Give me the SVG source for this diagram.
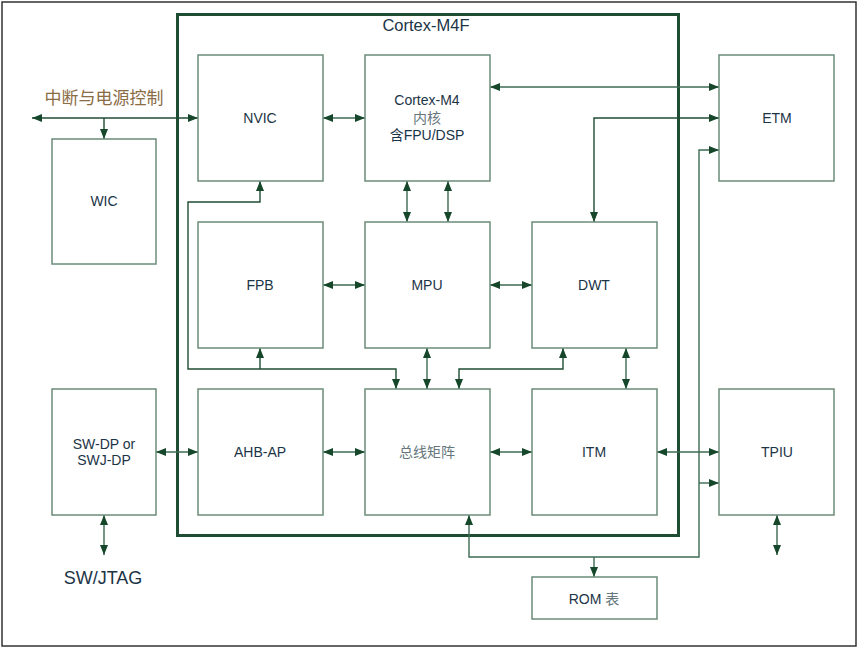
<svg xmlns="http://www.w3.org/2000/svg" width="859" height="649" viewBox="0 0 859 649">
<defs>
<marker id="ah" viewBox="0 0 10 8" refX="10" refY="4" markerWidth="10" markerHeight="8" markerUnits="userSpaceOnUse" orient="auto-start-reverse">
<path d="M0,0 L10,4 L0,8 Z" fill="#16472b"/>
</marker>
<style>
.box{fill:#fff;stroke:#6b8c79;stroke-width:1.5}
.t{font-family:"Liberation Sans",Arial,"Noto Sans CJK SC",sans-serif;font-size:14px;fill:#1b3446;text-anchor:middle}
.cn{font-family:"Liberation Sans","Noto Sans CJK SC",sans-serif;font-size:14px;fill:#66767c;text-anchor:middle}
.c{fill:none;stroke:#1f4d33;stroke-width:1.4}
.s{fill:none;stroke:#3d6a52;stroke-width:1.4}
</style>
</defs>
<rect x="2" y="2" width="854" height="644" fill="#fff" stroke="#333" stroke-width="1.5"/>
<g id="cortex-m4f">
<rect x="177.5" y="14.5" width="501" height="521" fill="none" stroke="#1f4d33" stroke-width="3"/>
<text x="426" y="31" class="t" style="font-size:16.5px">Cortex-M4F</text>
</g>
<g id="connectors">
<path class="c" d="M32,118 H198" marker-start="url(#ah)" marker-end="url(#ah)"/>
<path class="c" d="M104,118 V139" marker-end="url(#ah)"/>
<path class="s" d="M323,118 H365" marker-start="url(#ah)" marker-end="url(#ah)"/>
<path class="s" d="M490,87 H719" marker-start="url(#ah)" marker-end="url(#ah)"/>
<path class="c" d="M594,222 V118 H719" marker-start="url(#ah)" marker-end="url(#ah)"/>
<path class="s" d="M719,150 H699 V557 H469 V515" marker-start="url(#ah)" marker-end="url(#ah)"/>
<path class="s" d="M699,483 H719" marker-end="url(#ah)"/>
<path class="s" d="M594,557 V577" marker-end="url(#ah)"/>
<path class="s" d="M407,181 V222" marker-start="url(#ah)" marker-end="url(#ah)"/>
<path class="s" d="M448,181 V222" marker-start="url(#ah)" marker-end="url(#ah)"/>
<path class="s" d="M323,285 H365" marker-start="url(#ah)" marker-end="url(#ah)"/>
<path class="s" d="M490,285 H532" marker-start="url(#ah)" marker-end="url(#ah)"/>
<path class="s" d="M427,348 V389" marker-start="url(#ah)" marker-end="url(#ah)"/>
<path class="s" d="M626,348 V389" marker-start="url(#ah)" marker-end="url(#ah)"/>
<path class="c" d="M563,348 V369 H459 V389" marker-start="url(#ah)" marker-end="url(#ah)"/>
<path class="c" d="M260,181 V202 H188 V369 H396 V389" marker-start="url(#ah)" marker-end="url(#ah)"/>
<path class="c" d="M260,369 V348" marker-end="url(#ah)"/>
<path class="s" d="M156,452 H198" marker-start="url(#ah)" marker-end="url(#ah)"/>
<path class="s" d="M323,452 H365" marker-start="url(#ah)" marker-end="url(#ah)"/>
<path class="s" d="M490,452 H532" marker-start="url(#ah)" marker-end="url(#ah)"/>
<path class="s" d="M657,452 H719" marker-start="url(#ah)" marker-end="url(#ah)"/>
<path class="s" d="M104,515 V555" marker-start="url(#ah)" marker-end="url(#ah)"/>
<path class="s" d="M777,515 V555" marker-start="url(#ah)" marker-end="url(#ah)"/>
</g>
<g id="irq-label"><text x="104" y="104" class="t" style="font-size:17px;fill:#8a6c45">中断与电源控制</text></g>
<g id="swjtag-label"><text x="103" y="584" class="t" style="font-size:18px">SW/JTAG</text></g>
<g id="nvic"><rect class="box" x="198" y="55" width="125" height="126"/><text class="t" x="260" y="123">NVIC</text></g>
<g id="core"><rect class="box" x="365" y="55" width="125" height="126"/>
<text class="t" x="427" y="105">Cortex-M4</text>
<text class="cn" x="427" y="123">内核</text>
<text class="t" x="427" y="140">含FPU/DSP</text></g>
<g id="etm"><rect class="box" x="719" y="55" width="115" height="126"/><text class="t" x="777" y="123">ETM</text></g>
<g id="wic"><rect class="box" x="52" y="139" width="104" height="125"/><text class="t" x="104" y="206">WIC</text></g>
<g id="fpb"><rect class="box" x="198" y="222" width="125" height="126"/><text class="t" x="260" y="290">FPB</text></g>
<g id="mpu"><rect class="box" x="365" y="222" width="125" height="126"/><text class="t" x="427" y="290">MPU</text></g>
<g id="dwt"><rect class="box" x="532" y="222" width="125" height="126"/><text class="t" x="594" y="290">DWT</text></g>
<g id="swdp"><rect class="box" x="52" y="389" width="104" height="126"/>
<text class="t" x="104" y="449">SW-DP or</text><text class="t" x="104" y="465">SWJ-DP</text></g>
<g id="ahbap"><rect class="box" x="198" y="389" width="125" height="126"/><text class="t" x="260" y="457">AHB-AP</text></g>
<g id="busmatrix"><rect class="box" x="365" y="389" width="125" height="126"/><text class="cn" x="427" y="457">总线矩阵</text></g>
<g id="itm"><rect class="box" x="532" y="389" width="125" height="126"/><text class="t" x="594" y="457">ITM</text></g>
<g id="tpiu"><rect class="box" x="719" y="389" width="115" height="126"/><text class="t" x="777" y="457">TPIU</text></g>
<g id="rom"><rect class="box" x="532" y="577" width="125" height="42"/><text class="t" x="594" y="604">ROM <tspan style="fill:#66767c">表</tspan></text></g>
</svg>
